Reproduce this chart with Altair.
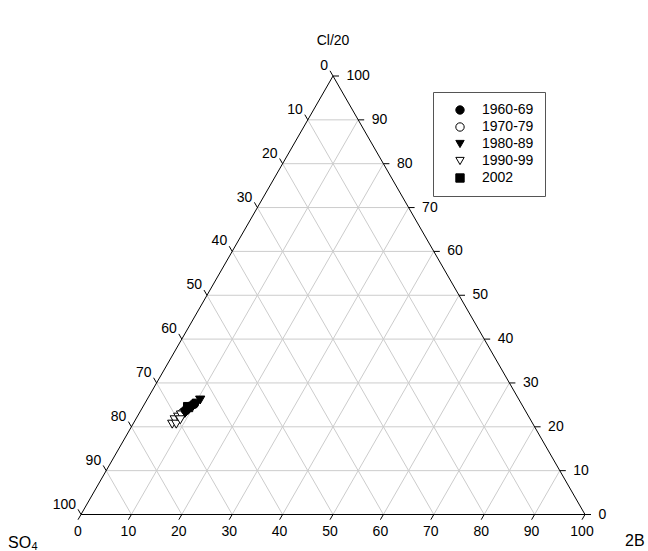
import altair as alt
import pandas as pd

FONT = "Liberation Sans"

# Legend categories and their symbols
periods = ["1960-69", "1970-79", "1980-89", "1990-99", "2002"]
period_shapes = ["circle", "circle", "triangle-down", "triangle-down", "square"]
period_fills = ["black", "white", "black", "white", "black"]
period_strokes = ["black", "black", "black", "black", "black"]

# Sample compositions (percent of SO4 + Cl/20 + 2B)
sample_period = ["1970-79", "1990-99", "1990-99", "1990-99", "1990-99", "1990-99", "1990-99",
                 "1960-69", "1960-69", "1980-89", "1980-89", "1980-89", "1980-89", "1980-89", "2002"]
so4 = [68.2, 71.6, 70.6, 69.6, 68.8, 70.8, 69.5, 67.3, 65.0, 67.8, 66.5, 65.4, 64.3, 63.3, 66.5]
cl20 = [23.2, 20.6, 21.6, 22.2, 22.7, 20.6, 21.6, 23.8, 25.2, 23.1, 24.1, 24.7, 25.4, 26.1, 24.5]
b2 = [8.6, 7.8, 7.8, 8.2, 8.5, 8.6, 8.9, 8.9, 9.8, 9.1, 9.4, 9.9, 10.3, 10.6, 9.0]

# Axis ticks, same on all three sides
tick_values = [0, 10, 20, 30, 40, 50, 60, 70, 80, 90, 100]
tick_labels = [str(v) for v in tick_values]

# Cartesian frame: X = 2B + Cl/2, Y = Cl (fractions)
X_DOMAIN = [-81 / 504, 567 / 504]
Y_DOMAIN = [-36.5 / 438.5, 514.5 / 438.5]
PX_X = 504.0    # pixels per unit of X
PX_Y = 438.5    # pixels per unit of Y
TICK = 6.0      # tick length in pixels
LABEL_SIZE = 14

xs = alt.Scale(domain=X_DOMAIN, nice=False, zero=False)
ys = alt.Scale(domain=Y_DOMAIN, nice=False, zero=False)


def seg(rows):
    return pd.DataFrame(rows, columns=["x1", "y1", "x2", "y2"])


# Grid lines for each component
grid_rows = []
for v in tick_values[1:-1]:
    f = v / 100
    grid_rows.append((f / 2, f, 1 - f / 2, f))                 # Cl/20 constant
    grid_rows.append((f, 0, f + (1 - f) / 2, 1 - f))           # 2B constant
    grid_rows.append(((1 - f) / 2, 1 - f, 1 - f, 0))           # SO4 constant
grid = seg(grid_rows)

edges = seg([(0, 0, 1, 0), (0, 0, 0.5, 1), (1, 0, 0.5, 1)])

# Tick marks and label anchors on each side
dxs = 0.5 * TICK / PX_X
dys = 0.866 * TICK / PX_Y
right_rows, bottom_rows, left_rows = [], [], []
for v in tick_values:
    f = v / 100
    right_rows.append((1 - f / 2, f, 1 - f / 2 + TICK / PX_X, f))
    bottom_rows.append((f, 0, f - dxs, -dys))
    left_rows.append(((1 - f) / 2, 1 - f, (1 - f) / 2 - dxs, 1 - f + dys))
ticks = pd.concat([seg(right_rows), seg(bottom_rows), seg(left_rows)])

right_lab = seg(right_rows).assign(label=tick_labels)
bottom_lab = seg(bottom_rows).assign(label=tick_labels)
left_lab = seg(left_rows).assign(label=tick_labels)


def rules(df, color):
    return alt.Chart(df).mark_rule(color=color, strokeWidth=1).encode(
        x=alt.X("x1:Q", scale=xs, axis=None),
        y=alt.Y("y1:Q", scale=ys, axis=None),
        x2="x2:Q",
        y2="y2:Q",
    )


def labels(df, align, dx, dy):
    return alt.Chart(df).mark_text(
        font=FONT, fontSize=LABEL_SIZE, color="black", align=align, baseline="middle", dx=dx, dy=dy
    ).encode(
        x=alt.X("x1:Q", scale=xs, axis=None),
        y=alt.Y("y1:Q", scale=ys, axis=None),
        text="label:N",
    )


legend = alt.Legend(
    title=None,
    orient="none",
    legendX=433,
    legendY=92,
    padding=11,
    symbolOffset=9,
    labelOffset=15,
    rowPadding=3,
    strokeColor="#555555",
    fillColor="white",
    labelFont=FONT,
    labelFontSize=LABEL_SIZE,
    labelColor="black",
    symbolSize=70,
    symbolStrokeWidth=1,
    symbolOpacity=1,
)

samples = pd.DataFrame({"period": sample_period, "so4": so4, "cl20": cl20, "b2": b2})

points = alt.Chart(samples).transform_calculate(
    px="datum.b2 / 100 + datum.cl20 / 200",
    py="datum.cl20 / 100",
).mark_point(filled=True, strokeWidth=1, opacity=1, size=85).encode(
    x=alt.X("px:Q", scale=xs, axis=None),
    y=alt.Y("py:Q", scale=ys, axis=None),
    shape=alt.Shape("period:N", scale=alt.Scale(domain=periods, range=period_shapes), legend=legend),
    fill=alt.Fill("period:N", scale=alt.Scale(domain=periods, range=period_fills), legend=legend),
    stroke=alt.Stroke("period:N", scale=alt.Scale(domain=periods, range=period_strokes), legend=legend),
)


def title_text(txt, x, y, size, align="left"):
    return alt.Chart(pd.DataFrame({"t": [txt]})).mark_text(
        font=FONT, fontSize=size, color="black", align=align, baseline="middle"
    ).encode(x=alt.value(x), y=alt.value(y), text="t:N")


chart = alt.layer(
    rules(grid, "#cccccc"),
    rules(edges, "black"),
    rules(ticks, "black"),
    labels(right_lab, "left", 13.5, 0),
    labels(bottom_lab, "center", -3, 17),
    labels(left_lab, "right", -5, -10),
    points,
    title_text("Cl/20", 333, 41, 14, "center"),
    title_text("SO", 8, 542.5, 16),
    title_text("4", 31.5, 546.5, 11),
    title_text("2B", 625, 541, 16),
).properties(
    width=648, height=551, padding=0, autosize="none"
).configure_view(
    strokeWidth=0
)

chart.save("out.html", embed_options={"renderer": "svg", "actions": False})
